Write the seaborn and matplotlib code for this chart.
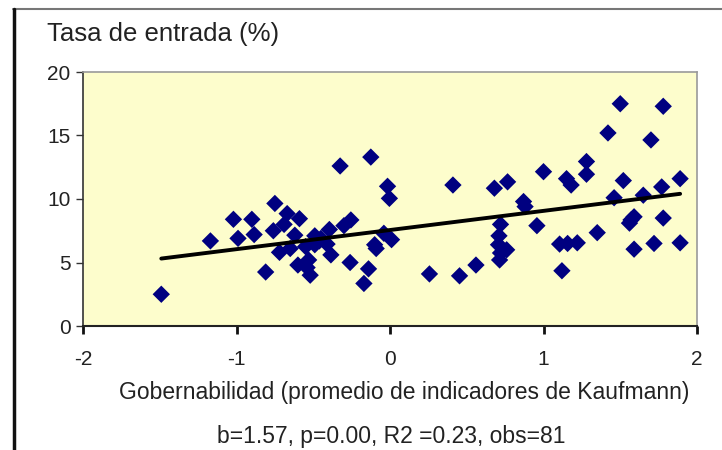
import matplotlib
matplotlib.use("Agg")
import matplotlib.pyplot as plt
from matplotlib.lines import Line2D
import pandas as pd
import seaborn as sns

# Gobernabilidad (Kaufmann) vs tasa de entrada, 81 obs
gobernabilidad = [
    -1.49, -1.17, -1.02, -0.99, -0.90, -0.885, -0.81, -0.76, -0.75, -0.72,
    -0.69, -0.67, -0.65, -0.59, -0.62, -0.60, -0.55, -0.53, -0.52, -0.49,
    -0.49, -0.54, -0.46, -0.41, -0.395, -0.385, -0.325, -0.30, -0.255, -0.26,
    -0.125, -0.14, -0.17, -0.10, -0.09, -0.016, -0.004, 0.01, -0.04, 0.257,
    0.41, 0.453, 0.56, 0.68, 0.766, 0.72, 0.71, 0.707, 0.76, 0.72,
    0.714, 0.87, 0.88, 0.957, 1.0, 1.12, 1.105, 1.157, 1.22, 1.15,
    1.18, 1.28, 1.28, 1.35, 1.42, 1.50, 1.52, 1.46, 1.59, 1.56,
    1.57, 1.59, 1.65, 1.70, 1.72, 1.78, 1.77, 1.78, 1.89, 1.89,
    -0.45,
]
tasa_entrada = [
    2.5, 6.7, 8.4, 6.9, 8.4, 7.2, 4.25, 7.5, 9.65, 5.8,
    8.0, 8.85, 6.1, 8.45, 7.15, 4.8, 6.25, 5.2, 4.0, 7.1,
    6.4, 4.6, 6.7, 6.45, 7.6, 5.6, 12.6, 7.9, 8.35, 5.0,
    13.3, 4.5, 3.35, 6.4, 6.1, 11.0, 10.05, 6.8, 7.3, 4.1,
    11.1, 3.95, 4.8, 10.85, 11.35, 8.0, 7.1, 6.4, 6.0, 5.75,
    5.2, 9.8, 9.4, 7.9, 12.15, 4.35, 6.45, 6.5, 6.55, 11.6,
    11.1, 12.95, 11.95, 7.35, 15.2, 17.5, 11.45, 10.1, 8.6, 8.1,
    8.35, 6.05, 10.3, 14.65, 6.5, 17.3, 10.95, 8.5, 11.6, 6.55,
    6.9,
]
x_ticks = [-2, -1, 0, 1, 2]
y_ticks = [0, 5, 10, 15, 20]

df = pd.DataFrame({"gob": gobernabilidad, "tasa": tasa_entrada})

sns.set_style("white")
plt.rcParams["font.family"] = ["Liberation Sans", "DejaVu Sans"]

fig = plt.figure(figsize=(7.22, 4.5), dpi=100)
ax = fig.add_axes([83 / 722, 1 - 326 / 450, 614 / 722, 254 / 450])
ax.set_facecolor("#FDFDCC")

sns.scatterplot(data=df, x="gob", y="tasa", marker="D", color="#000080",
                s=78, edgecolor="none", ax=ax, zorder=3)
sns.regplot(data=df, x="gob", y="tasa", scatter=False, ci=None, ax=ax,
            line_kws={"color": "black", "lw": 2.8, "zorder": 4})

ax.set_xlim(-2, 2)
ax.set_ylim(0, 20)
ax.set_xticks(x_ticks)
ax.set_yticks(y_ticks)
ax.set_xticklabels([str(t) for t in x_ticks])
ax.set_xlabel("")
ax.set_ylabel("")
ax.tick_params(axis="x", bottom=True, length=6, width=2, color="#111111",
               pad=11, labelsize=15, labelcolor="#222222")
ax.tick_params(axis="y", left=True, length=5, width=1, color="#333333",
               pad=4, labelsize=15, labelcolor="#222222")
for side in ["top", "right"]:
    ax.spines[side].set_color("#9a9a9a")
    ax.spines[side].set_linewidth(1.2)
ax.spines["left"].set_color("#333333")
ax.spines["bottom"].set_color("#222222")
ax.spines["left"].set_linewidth(1.2)
ax.spines["bottom"].set_linewidth(1.5)

fig.text(47 / 722, 1 - 34 / 450, "Tasa de entrada (%)", ha="left",
         va="center", fontsize=18.5, color="#222222")
fig.text(404 / 722, 1 - 392 / 450,
         "Gobernabilidad (promedio de indicadores de Kaufmann)",
         ha="center", va="center", fontsize=16.5, color="#222222")
fig.text(391 / 722, 1 - 437 / 450, "b=1.57, p=0.00, R2 =0.23, obs=81",
         ha="center", va="center", fontsize=16.5, color="#222222")

# marco exterior
fig.add_artist(Line2D([13 / 722, 1], [1 - 9 / 450, 1 - 9 / 450],
                      color="#777777", lw=1.5))
fig.add_artist(Line2D([14 / 722, 14 / 722], [0, 1 - 9 / 450],
                      color="#111111", lw=2.5))

plt.savefig("out.png", dpi=100)
